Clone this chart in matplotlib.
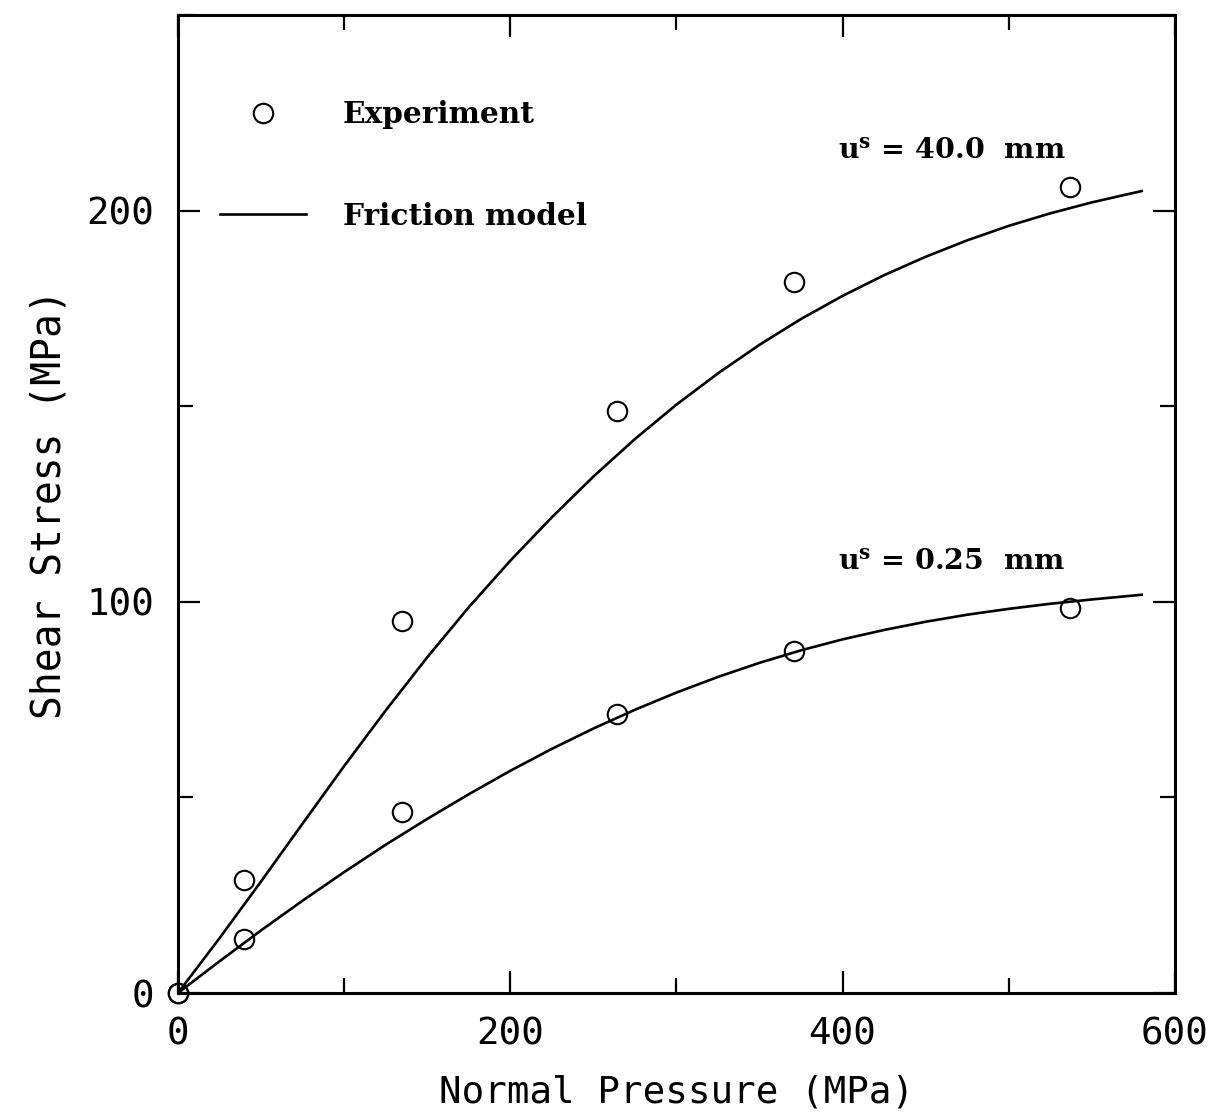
import matplotlib
matplotlib.use('Agg')
import matplotlib.pyplot as plt
from matplotlib.ticker import MultipleLocator

plt.rcParams['mathtext.fontset'] = 'dejavuserif'

# Measured shear stress against normal pressure, two slip displacements
exp_pressure = [0, 40, 135, 264, 371, 537]
exp_stress_40mm = [0, 28.8, 95.2, 148.7, 181.7, 206.0]
exp_stress_025mm = [0, 13.7, 46.3, 71.3, 87.5, 98.3]

# Friction model curves
model_pressure = [0, 25, 50, 75, 100, 125, 150, 175, 200, 225, 250, 275,
                  300, 325, 350, 375, 400, 425, 450, 475, 500, 525, 550, 580]
model_stress_40mm = [0, 14, 28.5, 43.3, 58, 72.2, 85.8, 98.6, 110.5, 121.6,
                     132, 141.6, 150.4, 158.4, 165.7, 172.3, 178.2, 183.5,
                     188.2, 192.4, 196.1, 199.3, 202.1, 205.0]
model_stress_025mm = [0, 8.1, 16, 23.6, 30.9, 37.9, 44.5, 50.8, 56.8, 62.4,
                      67.6, 72.4, 76.8, 80.8, 84.4, 87.6, 90.4, 92.8, 94.9,
                      96.7, 98.2, 99.5, 100.6, 101.8]

curve_labels = [r'u$^{\mathbf{s}}$ = 40.0  mm', r'u$^{\mathbf{s}}$ = 0.25  mm']
label_pos = [(397, 215.3), (397, 110.1)]

x_ticks = [0, 200, 400, 600]
y_ticks = [0, 100, 200]

mono = 'DejaVu Sans Mono'
serif = 'DejaVu Serif'

fig = plt.figure(figsize=(12.23, 11.19), dpi=100)
ax = fig.add_axes([0.1455, 0.1126, 0.8152, 0.874])

line_40, = ax.plot(model_pressure, model_stress_40mm, color='black', lw=1.9)
ax.plot(model_pressure, model_stress_025mm, color='black', lw=1.9)

exp_40, = ax.plot(exp_pressure, exp_stress_40mm, linestyle='none', marker='o',
                  markersize=14, markerfacecolor='none', markeredgecolor='black',
                  markeredgewidth=1.5, clip_on=False, zorder=3)
ax.plot(exp_pressure, exp_stress_025mm, linestyle='none', marker='o',
        markersize=14, markerfacecolor='none', markeredgecolor='black',
        markeredgewidth=1.5, clip_on=False, zorder=3)

for text, (tx, ty) in zip(curve_labels, label_pos):
    ax.text(tx, ty, text, fontsize=20.5, fontweight='bold', family=serif,
            va='center', ha='left')

ax.set_xlim(0, 600)
ax.set_ylim(0, 250)
ax.set_xticks(x_ticks)
ax.set_yticks(y_ticks)
ax.xaxis.set_minor_locator(MultipleLocator(100))
ax.yaxis.set_minor_locator(MultipleLocator(50))
ax.tick_params(which='both', direction='in', top=True, right=True, width=1.6)
ax.tick_params(which='major', length=16, pad=17, labelsize=27)
ax.tick_params(which='minor', length=11)
for lab in ax.get_xticklabels() + ax.get_yticklabels():
    lab.set_family(mono)
for sp in ax.spines.values():
    sp.set_linewidth(2.2)

ax.set_xlabel('Normal Pressure (MPa)', fontsize=27, family=mono, labelpad=16)
ax.set_ylabel('Shear Stress (MPa)', fontsize=28.5, family=mono, labelpad=12)

leg = ax.legend([exp_40, line_40], ['Experiment', 'Friction model'],
                loc='upper left', bbox_to_anchor=(0.042, 0.913),
                frameon=False, borderpad=0, borderaxespad=0,
                handlelength=2.9, handletextpad=1.25, labelspacing=2.45,
                prop={'family': serif, 'weight': 'bold', 'size': 21.3})

fig.savefig('out.png', dpi=100)
